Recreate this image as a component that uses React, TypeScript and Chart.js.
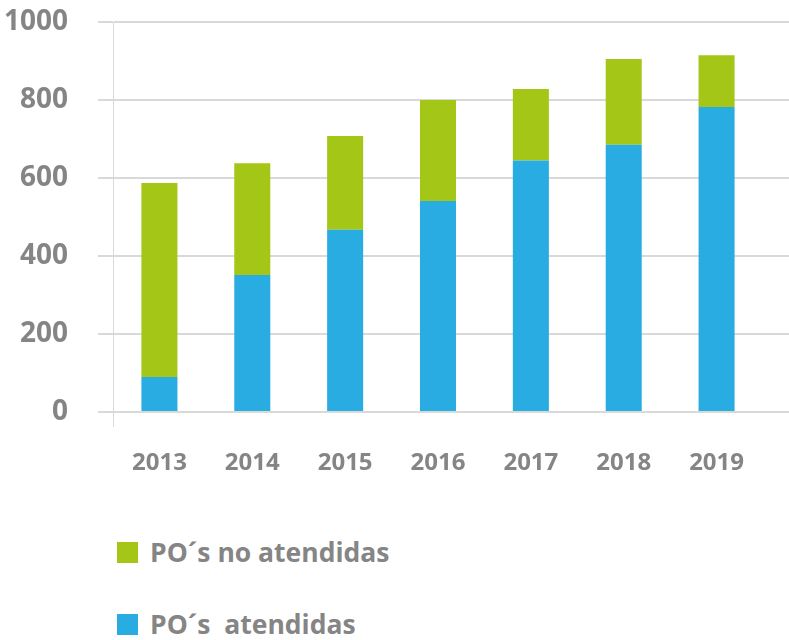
import React, { useEffect, useRef } from "react";
import { Chart, registerables } from "chart.js";

Chart.register(...registerables);

const years = ["2013", "2014", "2015", "2016", "2017", "2018", "2019"];
const atendidas = [90, 351, 467, 541, 645, 685, 782];
const noAtendidas = [497, 287, 241, 259, 183, 220, 133];
const yTickValues = [0, 200, 400, 600, 800, 1000];
const seriesLabels = ["PO´s no atendidas", "PO´s  atendidas"];

const GREEN = "#a3c617";
const BLUE = "#28ace2";
const GRID = "#d9d9d9";
const TEXT = "#858585";
const FONT = "'Open Sans', 'Liberation Sans', sans-serif";

const extendLines = {
  id: "extendLines",
  beforeDatasetsDraw(chart: any) {
    const { ctx, chartArea, scales } = chart;
    const y = scales.y;
    ctx.save();
    ctx.strokeStyle = GRID;
    ctx.lineWidth = 2;
    y.ticks.forEach((t: any) => {
      const py = Math.round(y.getPixelForValue(t.value));
      ctx.beginPath();
      ctx.moveTo(chartArea.right, py);
      ctx.lineTo(chart.width, py);
      ctx.stroke();
    });
    ctx.lineWidth = 1;
    const x = Math.round(chartArea.left) + 0.5;
    ctx.beginPath();
    ctx.moveTo(x, chartArea.bottom);
    ctx.lineTo(x, chartArea.bottom + 15);
    ctx.stroke();
    ctx.restore();
  },
};

export default function App() {
  const canvasRef = useRef<HTMLCanvasElement | null>(null);

  useEffect(() => {
    if (!canvasRef.current) return;
    const chart = new Chart(canvasRef.current, {
      type: "bar",
      data: {
        labels: years,
        datasets: [
          {
            label: seriesLabels[1],
            data: atendidas,
            backgroundColor: BLUE,
            barPercentage: 0.388,
            categoryPercentage: 1,
          },
          {
            label: seriesLabels[0],
            data: noAtendidas,
            backgroundColor: GREEN,
            barPercentage: 0.388,
            categoryPercentage: 1,
          },
        ],
      },
      options: {
        animation: false,
        responsive: true,
        maintainAspectRatio: false,
        layout: { padding: { top: 22, right: 26, left: 0, bottom: 0 } },
        plugins: {
          legend: { display: false },
          tooltip: { enabled: false },
        },
        scales: {
          x: {
            stacked: true,
            grid: { display: false, drawTicks: false },
            border: { display: false },
            ticks: {
              color: TEXT,
              font: { family: FONT, size: 24, weight: "bold" },
              padding: 37,
              maxRotation: 0,
            },
            afterFit: (s: any) => {
              s.height = 88;
              s.paddingLeft = 0;
              s.paddingRight = 0;
            },
          },
          y: {
            stacked: true,
            min: 0,
            max: 1000,
            afterBuildTicks: (s: any) => {
              s.ticks = yTickValues.map((v) => ({ value: v }));
            },
            ticks: {
              color: TEXT,
              font: { family: FONT, size: 28, weight: "bold" },
              padding: 30,
              callback: (v: any) => String(v),
            },
            grid: { color: GRID, lineWidth: 2, tickLength: 15, drawTicks: true },
            border: { display: true, color: GRID, width: 1 },
            afterFit: (s: any) => {
              s.width = 113;
              s.paddingTop = 0;
              s.paddingBottom = 0;
            },
          },
        },
      },
      plugins: [extendLines],
    });
    return () => chart.destroy();
  }, []);

  const legendItems = [
    { text: seriesLabels[0], color: GREEN, top: 542 },
    { text: seriesLabels[1], color: BLUE, top: 614 },
  ];

  return (
    <div style={{ position: "absolute", left: 0, top: 0, width: 789, height: 640, background: "#fff" }}>
      <div style={{ position: "absolute", left: 0, top: 0, width: 789, height: 500 }}>
        <canvas ref={canvasRef} />
      </div>
      {legendItems.map((it) => (
        <div
          key={it.text}
          style={{
            position: "absolute",
            left: 117,
            top: it.top,
            height: 21,
            display: "flex",
            alignItems: "center",
            fontFamily: FONT,
            fontWeight: "bold",
            fontSize: 26.5,
            lineHeight: "21px",
            color: TEXT,
            whiteSpace: "pre",
          }}
        >
          <span style={{ display: "inline-block", width: 21, height: 21, background: it.color, marginRight: 12 }} />
          <span>{it.text}</span>
        </div>
      ))}
    </div>
  );
}
